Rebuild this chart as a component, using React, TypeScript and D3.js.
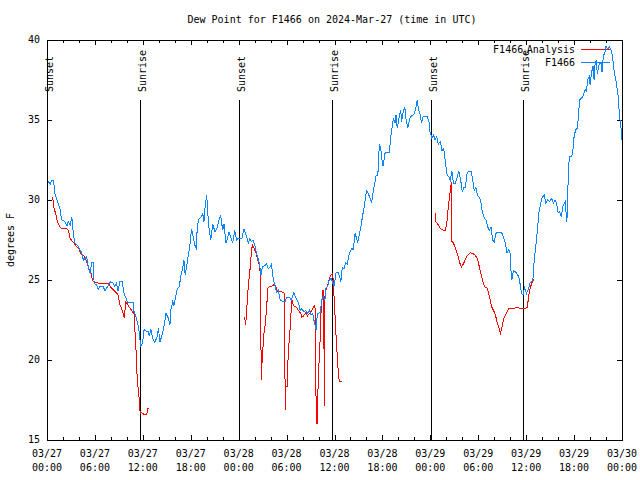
import React from "react";
import * as d3 from "d3";

const START = Date.UTC(2024, 2, 27, 0, 0);
const HOURS_SPAN = 72;
const yTicks = [15, 20, 25, 30, 35, 40];
const title = "Dew Point for F1466 on 2024-Mar-27 (time in UTC)";
const yLabel = "degrees F";

const sunsetHours = [0.05, 24.05, 48.1];
const sunriseHours = [11.68, 35.7, 59.6];

// F1466 (observed) : hours since start, dew point
const obsHours = [
  0.0, 0.4, 0.6, 0.8, 1.0, 1.4, 1.6, 1.84, 2.25, 2.5, 2.67, 2.9, 3.1, 3.3, 3.5, 3.9, 4.35, 4.55, 4.97, 5.17,
  5.4, 5.6, 5.8, 5.9, 6.2, 6.4, 6.6, 7.05, 7.26, 7.7, 7.97, 8.3, 8.5, 8.7, 8.9, 9.1, 9.4, 9.64, 9.9, 10.06,
  10.8, 10.9, 11.15, 11.45, 11.65, 11.73, 11.98, 12.15, 12.4, 12.7, 12.8, 13.0, 13.25, 13.5, 13.8, 13.95, 14.15, 14.45, 14.65, 14.9,
  15.2, 15.4, 15.5, 15.74, 15.9, 16.15, 16.3, 16.57, 16.74, 17.0, 17.15, 17.3, 17.5, 17.7, 17.9, 18.1, 18.3, 18.5, 18.75, 18.8,
  19.07, 19.37, 19.5, 19.66, 19.8, 20.0, 20.12, 20.3, 20.5, 20.75, 21.04, 21.25, 21.6, 21.75, 22.0, 22.16, 22.4, 22.6, 22.8, 23.0,
  23.25, 23.5, 23.75, 23.9, 24.4, 24.67, 25.0, 25.2, 25.4, 25.6, 25.8, 26.05, 26.25, 26.6, 26.8, 26.96, 27.3, 27.5, 27.7, 27.9,
  28.1, 28.3, 28.5, 28.75, 28.96, 29.2, 29.5, 29.8, 30.0, 30.4, 30.6, 30.9, 31.2, 31.5, 31.7, 31.9, 32.2, 32.4, 32.6, 32.85,
  33.06, 33.27, 33.5, 33.7, 33.85, 34.2, 34.4, 34.6, 34.8, 34.94, 35.15, 35.35, 35.6, 35.8, 35.94, 36.2, 36.5, 36.8, 36.97, 37.2,
  37.4, 37.6, 37.85, 38.15, 38.35, 38.57, 38.78, 38.9, 39.1, 39.3, 39.5, 39.7, 39.9, 40.0, 40.24, 40.45, 40.65, 40.86, 41.0, 41.2,
  41.36, 41.5, 41.6, 41.8, 42.0, 42.1, 42.3, 42.55, 42.87, 43.05, 43.24, 43.36, 43.58, 43.7, 43.86, 44.1, 44.3, 44.4, 44.6, 44.8,
  44.95, 45.17, 45.33, 45.5, 45.8, 46.0, 46.2, 46.37, 46.5, 46.7, 46.9, 47.1, 47.6, 47.83, 47.96, 48.2, 48.4, 48.6, 48.8, 49.0,
  49.25, 49.46, 49.67, 49.9, 50.1, 50.3, 50.5, 50.7, 50.9, 51.15, 51.37, 51.58, 51.8, 52.0, 52.2, 52.4, 52.6, 52.85, 53.1, 53.27,
  53.5, 53.7, 53.9, 54.1, 54.3, 54.5, 54.77, 54.97, 55.2, 55.4, 55.6, 55.8, 56.0, 56.2, 56.4, 56.8, 57.0, 57.2, 57.4, 57.6,
  57.8, 58.0, 58.1, 58.2, 58.4, 58.65, 58.85, 59.07, 59.3, 59.4, 59.6, 59.8, 60.05, 60.27, 60.47, 60.7, 60.9, 61.0, 61.2, 61.4,
  61.6, 61.9, 62.05, 62.26, 62.47, 62.7, 62.9, 63.2, 63.4, 63.6, 63.8, 64.0, 64.2, 64.4, 64.6, 64.9, 65.0, 65.1, 65.27, 65.4,
  65.7, 65.85, 66.0, 66.2, 66.4, 66.5, 66.7, 66.9, 67.1, 67.4, 67.55, 67.7, 67.9, 68.0, 68.2, 68.4, 68.5, 68.6, 68.8, 68.9,
  69.15, 69.4, 69.5, 69.66, 69.9, 70.0, 70.2, 70.4, 70.6, 70.8, 71.0, 71.3, 71.5, 71.7, 71.9, 72.0,
];
const obsValues = [
  31.25, 31.0, 31.25, 31.25, 30.4, 29.8, 29.5, 28.75, 28.65, 28.4, 28.65, 28.4, 28.96, 27.9, 27.3, 27.1, 26.7, 26.25, 26.45, 25.8,
  25.4, 26.1, 26.1, 24.8, 24.7, 24.4, 24.6, 24.6, 24.3, 24.7, 24.9, 24.8, 24.6, 24.8, 24.3, 24.9, 24.9, 24.17, 23.85, 23.6,
  23.6, 23.0, 22.7, 22.1, 21.25, 20.8, 21.1, 21.9, 21.8, 21.8, 21.5, 21.9, 21.35, 21.1, 21.45, 22.0, 21.1, 21.67, 22.1, 22.9,
  22.6, 22.2, 23.1, 23.65, 23.4, 24.06, 24.4, 24.6, 25.2, 25.8, 26.25, 25.3, 25.9, 26.56, 27.2, 28.2, 27.7, 27.2, 26.9, 28.4,
  28.85, 28.96, 29.2, 28.65, 29.6, 30.3, 29.27, 28.2, 27.5, 28.5, 28.0, 28.2, 28.85, 29.0, 28.1, 28.5, 27.3, 27.6, 28.0, 27.7,
  27.3, 28.1, 27.5, 27.6, 27.6, 28.2, 27.7, 27.3, 27.6, 27.4, 27.5, 27.1, 26.67, 26.0, 25.3, 25.8, 25.9, 26.0, 25.7, 25.8,
  26.0, 25.2, 24.7, 24.27, 24.4, 23.75, 23.65, 23.65, 23.9, 23.9, 23.75, 24.2, 23.85, 23.55, 23.1, 23.2, 23.0, 23.1, 22.9, 23.1,
  22.8, 22.9, 22.3, 21.9, 22.9, 22.95, 23.75, 23.96, 23.75, 24.5, 24.6, 25.0, 25.1, 24.8, 24.6, 25.45, 25.45, 24.9, 25.8, 25.7,
  26.1, 26.0, 26.67, 26.98, 26.9, 27.9, 27.6, 27.3, 27.8, 28.3, 28.96, 29.5, 30.2, 30.6, 30.4, 30.1, 29.8, 30.6, 30.9, 31.5,
  31.56, 31.9, 33.5, 33.2, 32.3, 32.1, 32.9, 33.0, 33.0, 33.96, 34.6, 35.1, 34.8, 35.3, 34.48, 35.2, 35.6, 34.9, 35.5, 35.8,
  35.1, 34.48, 34.9, 35.2, 35.3, 35.4, 35.8, 36.25, 35.7, 35.4, 34.8, 35.2, 35.2, 34.9, 34.27, 33.85, 34.06, 33.75, 33.96, 33.5,
  33.65, 33.1, 33.2, 32.3, 31.56, 31.46, 31.25, 31.8, 31.04, 31.04, 31.46, 31.8, 31.25, 30.5, 30.8, 30.8, 31.67, 31.8, 31.8, 31.35,
  30.6, 30.8, 30.3, 30.2, 30.0, 29.27, 28.85, 28.75, 28.3, 28.1, 28.3, 27.5, 27.4, 27.9, 28.0, 28.0, 27.9, 27.6, 27.3, 26.67,
  26.9, 26.67, 25.6, 25.0, 25.6, 25.5, 25.4, 25.2, 24.6, 24.17, 24.06, 24.5, 24.17, 24.4, 24.8, 24.9, 25.2, 26.25, 27.1, 28.1,
  29.2, 30.0, 30.2, 30.3, 29.8, 30.0, 29.9, 30.1, 29.8, 30.0, 29.8, 29.2, 29.27, 28.96, 29.6, 29.9, 29.2, 28.65, 31.46, 32.7,
  32.7, 33.1, 33.96, 34.4, 34.48, 35.0, 36.25, 36.35, 36.46, 36.9, 36.8, 37.5, 37.7, 37.2, 38.0, 38.4, 37.5, 38.4, 38.75, 37.9,
  38.5, 38.6, 38.0, 39.0, 39.27, 39.6, 39.4, 39.6, 39.4, 39.06, 38.1, 37.3, 36.56, 35.2, 34.4, 33.75,
];

// F1466 Analysis : hours since start, dew point (null = gap)
const anaHours = [
  0.6, 0.7, 0.88, 1.13, 1.3, 1.63, 1.84, 2.46, 2.67, 2.9, 3.2, 3.4, 3.7, 4.0, 4.1, 4.4, 4.67, 4.9, 5.1, 5.3,
  5.47, 5.6, 5.8, 6.0, 6.6, 7.7, 7.9, 8.3, 8.7, 8.9, 9.1, 9.35, 9.55, 9.68, 9.85, 10.06, 10.3, 10.6, 10.73, 10.9,
  11.0, 11.15, 11.3, 11.5, 11.6, 11.73, 11.86, 12.15, 12.5, 12.56, 12.7, 18.0,
  24.7, 24.79, 24.88, 25.0, 25.1, 25.2, 25.34, 25.5, 25.6, 25.76, 25.92, 26.2, 26.46, 26.6, 26.67, 26.76, 26.84, 26.92, 27.05, 27.17,
  27.34, 27.5, 27.67, 27.84, 28.1, 28.4, 28.67, 28.84, 29.1, 29.4, 29.7, 29.76, 29.85, 29.93, 30.1, 30.2, 30.35, 30.5, 30.64, 30.85,
  31.2, 31.5, 31.8, 31.9, 32.1, 32.4, 32.6, 32.85, 33.15, 33.35, 33.55, 33.65, 33.7, 33.85, 33.93, 34.06, 34.2, 34.27, 34.4, 34.47,
  34.56, 34.6, 34.7, 34.72, 34.8, 34.94, 35.1, 35.27, 35.44, 35.56, 35.7, 35.8, 35.9, 35.97, 36.1, 36.2, 36.35, 36.48, 36.6, 36.9,
  42.0,
  48.6, 48.7, 49.0, 49.3, 49.67, 49.9, 50.1, 50.3, 50.45, 50.5, 50.64, 50.7, 50.9, 51.15, 51.37, 51.58, 51.8, 51.9, 52.14, 52.43,
  52.7, 52.97, 53.27, 53.57, 53.9, 54.1, 54.33, 54.54, 54.76, 55.1, 55.3, 55.5, 55.7, 56.0, 56.2, 56.4, 56.6, 56.78, 57.0, 57.2,
  57.5, 57.8, 58.35, 58.8, 59.4, 59.8, 60.15, 60.3, 60.5, 60.77, 61.0,
];
const anaValues = [
  30.17, 30.17, 29.5, 29.06, 28.65, 28.3, 28.2, 28.2, 28.1, 27.6, 27.4, 27.3, 27.1, 26.98, 26.77, 26.56, 26.5, 26.25, 25.9, 25.6,
  25.5, 25.2, 24.9, 24.83, 24.8, 24.8, 24.6, 24.4, 24.2, 24.06, 23.5, 23.2, 22.9, 22.6, 23.65, 23.5, 23.3, 23.1, 23.0, 22.9,
  21.9, 20.6, 18.75, 17.9, 16.9, 16.67, 16.7, 16.6, 16.56, 16.9, 17.0, null,
  22.7, 22.5, 22.2, 23.1, 23.85, 24.6, 25.3, 26.0, 26.9, 27.2, 26.98, 26.67, 26.1, 25.9, 25.7, 22.3, 18.75, 19.8, 20.8, 21.67,
  22.3, 23.3, 24.5, 24.6, 24.6, 24.7, 24.6, 24.27, 24.27, 24.27, 24.17, 20.6, 16.9, 18.33, 18.33, 20.4, 21.35, 22.3, 23.85, 23.4,
  23.3, 23.1, 22.9, 22.66, 22.75, 22.95, 22.75, 22.9, 23.1, 23.3, 23.4, 21.9, 16.04, 16.04, 18.1, 19.8, 21.25, 22.7, 23.5, 24.17,
  24.4, 20.7, 20.7, 17.1, 23.96, 24.4, 24.6, 24.9, 25.2, 25.3, 25.4, 25.2, 24.6, 23.5, 22.5, 21.46, 20.2, 19.17, 18.65, 18.65,
  null,
  29.17, 28.65, 28.44, 28.2, 28.1, 28.1, 28.75, 29.8, 30.4, 30.5, 31.15, 27.4, 27.3, 26.98, 26.67, 26.25, 25.9, 25.8, 26.0, 26.35,
  26.56, 26.7, 26.67, 26.56, 26.35, 25.9, 25.4, 25.0, 24.6, 24.5, 24.17, 23.75, 23.3, 23.0, 22.7, 22.3, 21.98, 21.67, 22.1, 22.6,
  22.9, 23.2, 23.2, 23.3, 23.2, 23.2, 23.3, 23.96, 24.5, 24.9, 25.04,
];

const W = 640;
const H = 480;
const L = 47;
const R = 622;
const T = 40;
const B = 440;
const FONT = "'DejaVu Sans Mono', 'Liberation Mono', monospace";
const BLUE = "#0a84ff";
const RED = "#ff0000";

const toDate = (h: number) => new Date(START + h * 3600 * 1000);

export default function App() {
  const x = d3.scaleUtc().domain([toDate(0), toDate(HOURS_SPAN)]).range([L, R]);
  const y = d3.scaleLinear().domain([15, 40]).range([B, T]);

  const majorTicks = d3.utcHour.every(6)!.range(toDate(0), toDate(HOURS_SPAN + 0.01));
  const minorTicks = d3.utcHour.every(2)!.range(toDate(0), toDate(HOURS_SPAN + 0.01));
  const fmtDate = d3.utcFormat("%m/%d");
  const fmtTime = d3.utcFormat("%H:%M");

  type P = [number, number | null];
  const obs: P[] = obsHours.map((h, i) => [h, obsValues[i]]);
  const ana: P[] = anaHours.map((h, i) => [h, anaValues[i]]);
  const line = d3
    .line<P>()
    .defined((d) => d[1] != null)
    .x((d) => x(toDate(d[0])))
    .y((d) => y(d[1] as number));

  const events = [
    ...sunsetHours.map((h) => ({ h, label: "Sunset" })),
    ...sunriseHours.map((h) => ({ h, label: "Sunrise" })),
  ];

  return (
    <svg
      width={W}
      height={H}
      style={{ position: "absolute", left: 0, top: 0, background: "#fff" }}
      fontFamily={FONT}
      fontSize={10}
    >
      <rect x={0} y={0} width={W} height={H} fill="#fff" />
      <text x={332} y={20} textAnchor="middle" dominantBaseline="middle" fill="#000">
        {title}
      </text>
      <text
        transform={`translate(11,240) rotate(-90)`}
        textAnchor="middle"
        dominantBaseline="middle"
        fill="#000"
      >
        {yLabel}
      </text>

      {/* y ticks */}
      {yTicks.map((v) => (
        <g key={v}>
          <line x1={L} x2={L + 5} y1={Math.round(y(v)) + 0.5} y2={Math.round(y(v)) + 0.5} stroke="#000" shapeRendering="crispEdges" />
          <line x1={R - 5} x2={R} y1={Math.round(y(v)) + 0.5} y2={Math.round(y(v)) + 0.5} stroke="#000" shapeRendering="crispEdges" />
          <text x={40} y={y(v)} textAnchor="end" dominantBaseline="middle" fill="#000">
            {v}
          </text>
        </g>
      ))}

      {/* x ticks */}
      {minorTicks.map((d, i) => {
        const xx = Math.round(x(d)) + 0.5;
        const major = d.getUTCHours() % 6 === 0;
        const len = major ? 5 : 3;
        return (
          <g key={"m" + i}>
            <line x1={xx} x2={xx} y1={B} y2={B - len} stroke="#000" shapeRendering="crispEdges" />
            <line x1={xx} x2={xx} y1={T} y2={T + len} stroke="#000" shapeRendering="crispEdges" />
          </g>
        );
      })}
      {majorTicks.map((d, i) => (
        <g key={"l" + i}>
          <text x={x(d)} y={454} textAnchor="middle" dominantBaseline="middle" fill="#000">
            {fmtDate(d)}
          </text>
          <text x={x(d)} y={468} textAnchor="middle" dominantBaseline="middle" fill="#000">
            {fmtTime(d)}
          </text>
        </g>
      ))}

      {/* sunrise / sunset markers */}
      {events.map((e, i) => {
        const xx = Math.round(x(toDate(e.h))) + 0.5;
        return (
          <g key={"e" + i}>
            <line x1={xx} x2={xx} y1={100} y2={B} stroke="#000" shapeRendering="crispEdges" />
            <text
              transform={`translate(${xx + 5},92) rotate(-90)`}
              textAnchor="start"
              fill="#000"
            >
              {e.label}
            </text>
          </g>
        );
      })}

      {/* legend */}
      <text x={575} y={50} textAnchor="end" dominantBaseline="middle" fill="#000">
        F1466<tspan fontSize={6} dy={3}>a</tspan>
        <tspan dy={-3}>Analysis</tspan>
      </text>
      <line x1={581} x2={610} y1={49.5} y2={49.5} stroke={RED} shapeRendering="crispEdges" />
      <text x={575} y={63} textAnchor="end" dominantBaseline="middle" fill="#000">
        F1466
      </text>
      <line x1={581} x2={610} y1={62.5} y2={62.5} stroke={BLUE} shapeRendering="crispEdges" />

      {/* data */}
      <path d={line(ana) || ""} fill="none" stroke={RED} strokeWidth={1} shapeRendering="crispEdges" />
      <path d={line(obs) || ""} fill="none" stroke={BLUE} strokeWidth={1} shapeRendering="crispEdges" />

      {/* frame */}
      <rect x={L + 0.5} y={T + 0.5} width={R - L} height={B - T} fill="none" stroke="#000" shapeRendering="crispEdges" />
    </svg>
  );
}
